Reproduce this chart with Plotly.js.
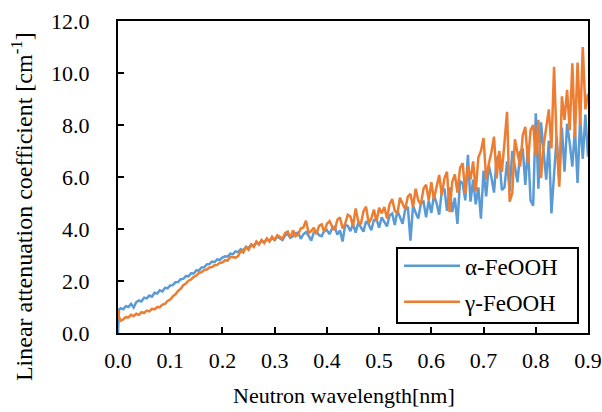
<!DOCTYPE html>
<html>
<head>
<meta charset="utf-8">
<script src="https://cdn.plot.ly/plotly-3.0.1.min.js"></script>
<style>html,body{margin:0;padding:0;background:#fff;}#chart{width:602px;height:412px;}</style>
</head>
<body>
<div id="chart"></div>
<script>
var wavelength = [0, 0.002,
0.005,0.01,0.015,0.02,0.025,0.03,0.035,0.04,0.045,0.05,0.055,0.06,0.065,0.07,0.075,0.08,0.085,0.09,0.095,0.1,
0.105,0.11,0.115,0.12,0.125,0.13,0.135,0.14,0.145,0.15,0.155,0.16,0.165,0.17,0.175,0.18,0.185,0.19,0.195,0.2,
0.205,0.21,0.215,0.22,0.225,0.23,0.235,0.24,0.245,0.25,0.255,0.26,0.265,0.27,0.275,0.28,0.285,0.29,0.295,0.3,
0.305,0.31,0.315,0.32,0.325,0.33,0.335,0.34,0.345,0.35,0.355,0.36,0.365,0.37,0.375,0.38,0.385,0.39,0.395,0.4,
0.405,0.41,0.415,0.42,0.425,0.43,0.435,0.44,0.445,0.45,0.455,0.46,0.465,0.47,0.475,0.48,0.485,0.49,0.495,0.5,
0.505,0.51,0.515,0.52,0.525,0.53,0.535,0.54,0.545,0.55,0.555,0.56,0.565,0.57,0.575,0.58,0.585,0.59,0.595,0.6,
0.605,0.61,0.615,0.62,0.625,0.63,0.635,0.64,0.645,0.65,0.655,0.66,0.665,0.67,0.675,0.68,0.685,0.69,0.695,0.7,
0.705,0.71,0.715,0.72,0.725,0.73,0.735,0.74,0.745,0.75,0.755,0.76,0.765,0.77,0.775,0.78,0.785,0.79,0.795,0.8,
0.805,0.81,0.815,0.82,0.825,0.83,0.835,0.84,0.845,0.85,0.855,0.86,0.865,0.87,0.875,0.88,0.885,0.89,0.895,0.9];

var alphaFeOOH = [0.0, 0.90,
0.95,0.91,1.03,1.00,1.12,0.98,1.19,1.25,1.21,1.36,1.33,1.44,1.40,1.55,1.52,1.64,1.60,1.74,1.72,1.83,
1.84,1.95,1.96,2.07,2.08,2.19,2.18,2.30,2.29,2.41,2.40,2.52,2.53,2.64,2.65,2.75,2.73,2.83,2.81,2.90,
2.95,2.94,3.05,3.03,3.14,3.11,3.22,3.18,3.31,3.26,3.40,3.35,3.47,3.43,3.55,3.49,3.61,3.54,3.65,3.58,
3.70,3.64,3.58,3.75,3.81,3.66,3.72,3.84,3.86,3.62,3.80,3.88,3.74,3.55,3.87,3.91,3.76,3.72,3.93,3.96,
3.80,4.02,4.08,3.78,3.95,3.52,4.15,4.12,3.92,4.20,3.86,4.24,4.05,3.90,4.30,4.18,3.95,4.35,4.38,4.05,
4.45,4.30,4.10,4.52,4.60,4.15,4.70,4.45,4.20,4.75,4.85,3.55,4.90,4.62,4.40,4.98,5.05,4.45,5.10,4.62,
5.30,5.00,4.55,5.45,5.55,4.70,5.60,4.65,5.20,4.20,5.85,5.75,5.10,6.85,5.05,5.90,4.95,5.60,4.40,6.25,
5.25,6.45,6.00,5.40,6.70,6.85,5.50,5.60,6.60,5.45,7.00,6.40,5.80,6.95,7.10,5.70,7.20,5.10,4.90,8.45,
5.55,8.10,7.00,5.90,7.40,4.60,6.10,7.55,5.85,7.90,6.20,8.05,7.30,6.40,7.85,5.77,8.30,6.70,8.40,6.78];

var gammaFeOOH = [0.88, 0.62, 0.47,
0.52,0.61,0.60,0.70,0.65,0.74,0.70,0.80,0.77,0.86,0.83,0.93,0.91,1.00,0.99,1.09,1.12,1.23,1.29,
1.41,1.49,1.62,1.70,1.84,1.90,2.01,2.06,2.16,2.21,2.31,2.34,2.42,2.44,2.52,2.54,2.61,2.62,2.70,2.71,
2.80,2.78,2.93,2.90,2.90,2.96,3.16,3.10,3.30,3.20,3.40,3.31,3.52,3.40,3.58,3.46,3.64,3.52,3.70,3.58,
3.76,3.70,3.62,3.84,3.90,3.66,3.95,3.72,3.80,4.02,4.06,4.32,3.85,3.92,4.05,3.80,4.12,4.18,3.88,4.20,
4.30,4.10,3.95,4.35,4.45,4.02,4.20,4.55,4.48,4.10,4.79,4.30,4.18,4.68,4.86,4.22,4.40,4.75,4.28,4.82,
4.60,4.85,4.40,4.95,5.15,4.70,4.60,5.20,5.00,4.75,5.25,5.35,4.85,5.55,5.10,4.95,5.55,5.70,5.10,5.80,
5.15,5.60,6.08,5.30,5.95,6.20,4.65,5.80,6.10,5.40,6.35,6.53,5.35,6.45,5.90,6.60,5.45,6.75,7.00,7.50,
5.90,6.50,6.95,7.55,5.95,7.00,6.20,7.30,8.51,5.05,5.38,7.45,6.90,6.40,7.60,7.93,6.55,7.80,8.00,6.80,
8.20,5.96,7.20,7.90,8.60,7.10,10.24,7.30,5.63,9.10,8.20,9.35,7.80,10.37,7.50,10.40,8.00,11.00,8.60,9.20];

var seriesNames = ['α-FeOOH', 'γ-FeOOH'];
var xTitle = 'Neutron wavelength[nm]';
var yTitle = 'Linear attenuation coefficient [cm<sup>-1</sup>]';
var xTickVals = [0,0.1,0.2,0.3,0.4,0.5,0.6,0.7,0.8,0.9];
var xTickText = ['0.0','0.1','0.2','0.3','0.4','0.5','0.6','0.7','0.8','0.9'];
var yTickVals = [0,2,4,6,8,10,12];
var yTickText = ['0.0','2.0','4.0','6.0','8.0','10.0','12.0'];

var FONT = 'Liberation Serif, Times New Roman, serif';

var traces = [
  {x: wavelength, y: alphaFeOOH, name: seriesNames[0], type: 'scatter', mode: 'lines',
   line: {color: '#5B9BD5', width: 2.5}, legendgroup: 'a'},
  {x: wavelength, y: gammaFeOOH, name: seriesNames[1], type: 'scatter', mode: 'lines',
   line: {color: '#ED7D31', width: 2.5}, legendgroup: 'g'}
];

var layout = {
  width: 602, height: 412,
  margin: {l: 118, r: 14, t: 21, b: 79},
  paper_bgcolor: '#fff', plot_bgcolor: '#fff',
  font: {family: FONT, size: 22, color: '#000'},
  showlegend: true,
  legend: {
    x: 0.598, y: 0.284, xanchor: 'left', yanchor: 'top',
    bgcolor: 'rgba(0,0,0,0)', borderwidth: 0,
    font: {family: FONT, size: 23, color: '#000'},
    itemwidth: 56, traceorder: 'grouped', tracegroupgap: 3
  },
  shapes: [
    {type: 'rect', xref: 'paper', yref: 'paper', x0: 0.5936, x1: 0.9787, y0: 0.032, y1: 0.2724,
     fillcolor: '#fff', line: {color: '#000', width: 2}, layer: 'above'}
  ],
  annotations: [
    {text: xTitle, xref: 'paper', yref: 'paper', x: 0.481, y: -0.199, xanchor: 'center', yanchor: 'middle',
     showarrow: false, font: {family: FONT, size: 22, color: '#000'}},
    {text: yTitle, xref: 'paper', yref: 'paper', x: -0.204, y: 0.404, xanchor: 'center', yanchor: 'middle',
     textangle: -90, showarrow: false, font: {family: FONT, size: 24, color: '#000'}}
  ],
  xaxis: {
    range: [0, 0.9], tickvals: xTickVals, ticktext: xTickText,
    ticks: 'inside', ticklen: 6, tickwidth: 2, tickcolor: '#000',
    showline: true, linecolor: '#000', linewidth: 2, mirror: true,
    showgrid: false, zeroline: false, ticklabelstandoff: 7,
    tickfont: {family: FONT, size: 22, color: '#000'}
  },
  yaxis: {
    range: [0, 12], tickvals: yTickVals, ticktext: yTickText,
    ticks: 'inside', ticklen: 6, tickwidth: 2, tickcolor: '#000',
    showline: true, linecolor: '#000', linewidth: 2, mirror: true,
    showgrid: false, zeroline: false, ticklabelstandoff: 22,
    tickfont: {family: FONT, size: 22, color: '#000'}
  }
};

Plotly.newPlot('chart', traces, layout, {displayModeBar: false, staticPlot: true});
</script>
</body>
</html>
